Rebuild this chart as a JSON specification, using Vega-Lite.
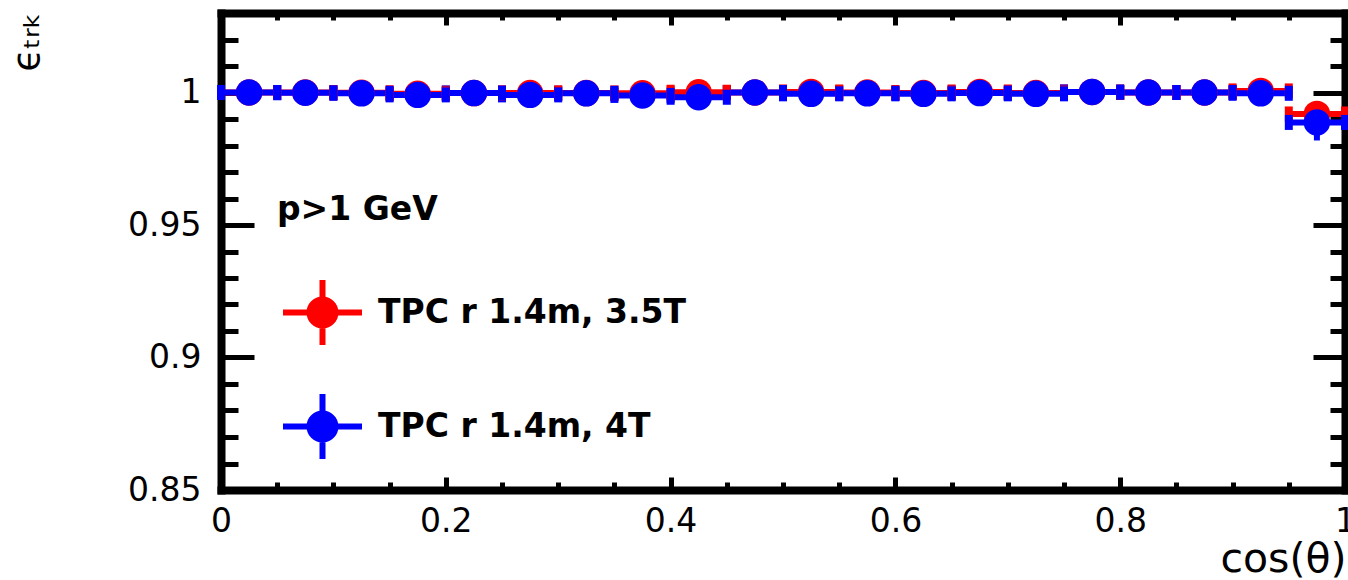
{
  "$schema": "https://vega.github.io/schema/vega-lite/v6.json",
  "width": 1124,
  "height": 477,
  "autosize": {"type": "none"},
  "padding": {"left": 221, "top": 13, "right": 3, "bottom": 90},
  "background": "white",
  "config": {"view": {"stroke": null}, "font": "DejaVu Sans", "axis": {"labelOverlap": false}},
  "datasets": {
    "eff": [
      {"s": "TPC r 1.4m, 3.5T", "x": 0.025, "lo": 0.0, "hi": 0.05, "y": 1.0000, "ylo": 0.9997, "yhi": 1.0003},
      {"s": "TPC r 1.4m, 3.5T", "x": 0.075, "lo": 0.05, "hi": 0.1, "y": 1.0000, "ylo": 0.9997, "yhi": 1.0003},
      {"s": "TPC r 1.4m, 3.5T", "x": 0.125, "lo": 0.1, "hi": 0.15, "y": 0.9999, "ylo": 0.9996, "yhi": 1.0002},
      {"s": "TPC r 1.4m, 3.5T", "x": 0.175, "lo": 0.15, "hi": 0.2, "y": 0.9995, "ylo": 0.9992, "yhi": 0.9998},
      {"s": "TPC r 1.4m, 3.5T", "x": 0.225, "lo": 0.2, "hi": 0.25, "y": 0.9998, "ylo": 0.9995, "yhi": 1.0001},
      {"s": "TPC r 1.4m, 3.5T", "x": 0.275, "lo": 0.25, "hi": 0.3, "y": 0.9998, "ylo": 0.9995, "yhi": 1.0001},
      {"s": "TPC r 1.4m, 3.5T", "x": 0.325, "lo": 0.3, "hi": 0.35, "y": 0.9998, "ylo": 0.9995, "yhi": 1.0001},
      {"s": "TPC r 1.4m, 3.5T", "x": 0.375, "lo": 0.35, "hi": 0.4, "y": 0.9997, "ylo": 0.9994, "yhi": 1.0000},
      {"s": "TPC r 1.4m, 3.5T", "x": 0.425, "lo": 0.4, "hi": 0.45, "y": 1.0001, "ylo": 0.9998, "yhi": 1.0004},
      {"s": "TPC r 1.4m, 3.5T", "x": 0.475, "lo": 0.45, "hi": 0.5, "y": 1.0000, "ylo": 0.9997, "yhi": 1.0003},
      {"s": "TPC r 1.4m, 3.5T", "x": 0.525, "lo": 0.5, "hi": 0.55, "y": 1.0002, "ylo": 0.9999, "yhi": 1.0005},
      {"s": "TPC r 1.4m, 3.5T", "x": 0.575, "lo": 0.55, "hi": 0.6, "y": 1.0000, "ylo": 0.9997, "yhi": 1.0003},
      {"s": "TPC r 1.4m, 3.5T", "x": 0.625, "lo": 0.6, "hi": 0.65, "y": 0.9998, "ylo": 0.9995, "yhi": 1.0001},
      {"s": "TPC r 1.4m, 3.5T", "x": 0.675, "lo": 0.65, "hi": 0.7, "y": 1.0002, "ylo": 0.9999, "yhi": 1.0005},
      {"s": "TPC r 1.4m, 3.5T", "x": 0.725, "lo": 0.7, "hi": 0.75, "y": 0.9998, "ylo": 0.9995, "yhi": 1.0001},
      {"s": "TPC r 1.4m, 3.5T", "x": 0.775, "lo": 0.75, "hi": 0.8, "y": 1.0002, "ylo": 0.9999, "yhi": 1.0005},
      {"s": "TPC r 1.4m, 3.5T", "x": 0.825, "lo": 0.8, "hi": 0.85, "y": 1.0000, "ylo": 0.9997, "yhi": 1.0003},
      {"s": "TPC r 1.4m, 3.5T", "x": 0.875, "lo": 0.85, "hi": 0.9, "y": 1.0000, "ylo": 0.9997, "yhi": 1.0003},
      {"s": "TPC r 1.4m, 3.5T", "x": 0.925, "lo": 0.9, "hi": 0.95, "y": 1.0006, "ylo": 1.0003, "yhi": 1.0009},
      {"s": "TPC r 1.4m, 3.5T", "x": 0.975, "lo": 0.95, "hi": 1.0, "y": 0.9919, "ylo": 0.9873, "yhi": 0.9965},
      {"s": "TPC r 1.4m, 4T", "x": 0.025, "lo": 0.0, "hi": 0.05, "y": 1.0000, "ylo": 0.9997, "yhi": 1.0003},
      {"s": "TPC r 1.4m, 4T", "x": 0.075, "lo": 0.05, "hi": 0.1, "y": 0.9999, "ylo": 0.9996, "yhi": 1.0002},
      {"s": "TPC r 1.4m, 4T", "x": 0.125, "lo": 0.1, "hi": 0.15, "y": 0.9997, "ylo": 0.9994, "yhi": 1.0000},
      {"s": "TPC r 1.4m, 4T", "x": 0.175, "lo": 0.15, "hi": 0.2, "y": 0.9991, "ylo": 0.9988, "yhi": 0.9994},
      {"s": "TPC r 1.4m, 4T", "x": 0.225, "lo": 0.2, "hi": 0.25, "y": 0.9998, "ylo": 0.9995, "yhi": 1.0001},
      {"s": "TPC r 1.4m, 4T", "x": 0.275, "lo": 0.25, "hi": 0.3, "y": 0.9991, "ylo": 0.9988, "yhi": 0.9994},
      {"s": "TPC r 1.4m, 4T", "x": 0.325, "lo": 0.3, "hi": 0.35, "y": 0.9997, "ylo": 0.9994, "yhi": 1.0000},
      {"s": "TPC r 1.4m, 4T", "x": 0.375, "lo": 0.35, "hi": 0.4, "y": 0.9989, "ylo": 0.9986, "yhi": 0.9992},
      {"s": "TPC r 1.4m, 4T", "x": 0.425, "lo": 0.4, "hi": 0.45, "y": 0.9982, "ylo": 0.9979, "yhi": 0.9985},
      {"s": "TPC r 1.4m, 4T", "x": 0.475, "lo": 0.45, "hi": 0.5, "y": 1.0000, "ylo": 0.9997, "yhi": 1.0003},
      {"s": "TPC r 1.4m, 4T", "x": 0.525, "lo": 0.5, "hi": 0.55, "y": 0.9995, "ylo": 0.9992, "yhi": 0.9998},
      {"s": "TPC r 1.4m, 4T", "x": 0.575, "lo": 0.55, "hi": 0.6, "y": 0.9997, "ylo": 0.9994, "yhi": 1.0000},
      {"s": "TPC r 1.4m, 4T", "x": 0.625, "lo": 0.6, "hi": 0.65, "y": 0.9995, "ylo": 0.9992, "yhi": 0.9998},
      {"s": "TPC r 1.4m, 4T", "x": 0.675, "lo": 0.65, "hi": 0.7, "y": 0.9998, "ylo": 0.9995, "yhi": 1.0001},
      {"s": "TPC r 1.4m, 4T", "x": 0.725, "lo": 0.7, "hi": 0.75, "y": 0.9995, "ylo": 0.9992, "yhi": 0.9998},
      {"s": "TPC r 1.4m, 4T", "x": 0.775, "lo": 0.75, "hi": 0.8, "y": 1.0002, "ylo": 0.9999, "yhi": 1.0005},
      {"s": "TPC r 1.4m, 4T", "x": 0.825, "lo": 0.8, "hi": 0.85, "y": 1.0000, "ylo": 0.9997, "yhi": 1.0003},
      {"s": "TPC r 1.4m, 4T", "x": 0.875, "lo": 0.85, "hi": 0.9, "y": 1.0000, "ylo": 0.9997, "yhi": 1.0003},
      {"s": "TPC r 1.4m, 4T", "x": 0.925, "lo": 0.9, "hi": 0.95, "y": 0.9997, "ylo": 0.9994, "yhi": 1.0000},
      {"s": "TPC r 1.4m, 4T", "x": 0.975, "lo": 0.95, "hi": 1.0, "y": 0.9887, "ylo": 0.9819, "yhi": 0.9955}
    ]
  },
  "data": {"name": "eff"},
  "resolve": {"axis": {"x": "independent", "y": "independent"}},
  "layer": [
    {
      "encoding": {
        "color": {
          "field": "s", "type": "nominal",
          "scale": {"domain": ["TPC r 1.4m, 3.5T", "TPC r 1.4m, 4T"], "range": ["#ff0000", "#0000ff"]},
          "legend": {
            "orient": "none", "legendX": 56, "legendY": 181, "direction": "vertical",
            "title": "p>1 GeV", "titleFont": "DejaVu Sans", "titleFontSize": 33, "titleFontWeight": "bold", "titleColor": "black", "titlePadding": 46,
            "symbolType": "M-1,-0.076H1V0.076H-1Z M-0.076,-0.823H0.076V0.823H-0.076Z M-0.405,0A0.405,0.405,0,1,1,0.405,0A0.405,0.405,0,1,1,-0.405,0Z",
            "symbolSize": 6241, "symbolStrokeWidth": 0, "symbolOffset": 6, "symbolOpacity": 1,
            "labelFont": "DejaVu Sans", "labelFontSize": 33, "labelFontWeight": "bold", "labelColor": "black", "labelOffset": 16, "labelLimit": 0,
            "rowPadding": 41,
            "encode": {"symbols": {"update": {"fill": {"scale": "color", "field": "value"}, "stroke": {"value": "transparent"}, "opacity": {"value": 1}}}}
          }
        }
      },
      "layer": [
        {
          "mark": {"type": "rule", "strokeWidth": 6},
          "encoding": {
            "x": {"field": "lo", "type": "quantitative"},
            "x2": {"field": "hi"},
            "y": {"field": "y", "type": "quantitative"}
          }
        },
        {
          "mark": {"type": "rule", "strokeWidth": 6},
          "encoding": {
            "x": {"field": "x", "type": "quantitative"},
            "y": {"field": "ylo", "type": "quantitative"},
            "y2": {"field": "yhi"}
          }
        },
        {
          "mark": {"type": "tick", "orient": "vertical", "size": 15, "thickness": 8, "opacity": 1},
          "encoding": {
            "x": {"field": "lo", "type": "quantitative"},
            "y": {"field": "y", "type": "quantitative"}
          }
        },
        {
          "mark": {"type": "tick", "orient": "vertical", "size": 15, "thickness": 8, "opacity": 1},
          "encoding": {
            "x": {"field": "hi", "type": "quantitative"},
            "y": {"field": "y", "type": "quantitative"}
          }
        },
        {
          "mark": {"type": "point", "shape": "circle", "filled": true, "size": 700, "opacity": 1},
          "encoding": {
            "x": {
              "field": "x", "type": "quantitative",
              "scale": {"domain": [0, 1], "nice": false, "zero": false},
              "axis": {
                "orient": "bottom",
                "values": [0, 0.05, 0.1, 0.15, 0.2, 0.25, 0.3, 0.35, 0.4, 0.45, 0.5, 0.55, 0.6, 0.65, 0.7, 0.75, 0.8, 0.85, 0.9, 0.95, 1],
                "tickCount": 100,
                "grid": false,
                "domainColor": "black", "domainWidth": 8, "domainCap": "square",
                "tickColor": "black", "tickWidth": 5,
                "tickSize": {"condition": {"test": "abs(datum.value*5-round(datum.value*5))<0.001", "value": -13}, "value": -8},
                "labelExpr": "abs(datum.value*5-round(datum.value*5))<0.001 ? format(datum.value,'~g') : ''",
                "labelFontSize": {"condition": {"test": "abs(datum.value*5-round(datum.value*5))<0.001", "value": 33}, "value": 1},
                "labelOverlap": false, "labelFlush": false, "labelBound": false,
                "labelPadding": 28, "labelFont": "DejaVu Sans", "labelColor": "black",
                "title": "cos(θ)", "titleFont": "DejaVu Sans", "titleFontSize": 41, "titleFontWeight": "normal", "titleColor": "black",
                "titleAlign": "right", "titleBaseline": "alphabetic", "titleX": 1125, "titleY": 81
              }
            },
            "y": {
              "field": "y", "type": "quantitative",
              "scale": {"domain": [0.85, 1.03], "nice": false, "zero": false},
              "axis": {
                "orient": "left",
                "values": [0.85, 0.86, 0.87, 0.88, 0.89, 0.9, 0.91, 0.92, 0.93, 0.94, 0.95, 0.96, 0.97, 0.98, 0.99, 1, 1.01, 1.02],
                "tickCount": 100,
                "grid": false,
                "domainColor": "black", "domainWidth": 8, "domainCap": "square",
                "tickColor": "black", "tickWidth": 5,
                "tickSize": {"condition": {"test": "abs(datum.value*20-round(datum.value*20))<0.001", "value": -33}, "value": -17},
                "labelExpr": "abs(datum.value*20-round(datum.value*20))<0.001 ? format(datum.value,'~g') : ''",
                "labelFontSize": {"condition": {"test": "abs(datum.value*20-round(datum.value*20))<0.001", "value": 33}, "value": 1},
                "labelOverlap": false, "labelFlush": false, "labelBound": false,
                "labelPadding": 53, "labelFont": "DejaVu Sans", "labelColor": "black",
                "title": "ϵₜᵣₖ", "titleFont": "DejaVu Sans", "titleFontSize": 37, "titleFontWeight": "normal", "titleColor": "black",
                "titleAngle": 270, "titleAlign": "left", "titleBaseline": "alphabetic", "titleX": -183, "titleY": 58
              }
            }
          }
        }
      ]
    },
    {
      "mark": {"type": "point", "opacity": 0},
      "encoding": {
        "x": {
          "field": "x", "type": "quantitative",
          "axis": {
            "orient": "top",
            "values": [0, 0.05, 0.1, 0.15, 0.2, 0.25, 0.3, 0.35, 0.4, 0.45, 0.5, 0.55, 0.6, 0.65, 0.7, 0.75, 0.8, 0.85, 0.9, 0.95, 1],
            "tickCount": 100,
            "grid": false, "labels": false, "title": null,
            "domainColor": "black", "domainWidth": 8, "domainCap": "square",
            "tickColor": "black", "tickWidth": 5,
            "tickSize": {"condition": {"test": "abs(datum.value*5-round(datum.value*5))<0.001", "value": -12}, "value": -7}
          }
        },
        "y": {
          "field": "y", "type": "quantitative",
          "axis": {
            "orient": "right",
            "values": [0.85, 0.86, 0.87, 0.88, 0.89, 0.9, 0.91, 0.92, 0.93, 0.94, 0.95, 0.96, 0.97, 0.98, 0.99, 1, 1.01, 1.02],
            "tickCount": 100,
            "grid": false, "labels": false, "title": null,
            "domainColor": "black", "domainWidth": 8, "domainCap": "square",
            "tickColor": "black", "tickWidth": 5,
            "tickSize": {"condition": {"test": "abs(datum.value*20-round(datum.value*20))<0.001", "value": -32}, "value": -15}
          }
        }
      }
    }
  ]
}
